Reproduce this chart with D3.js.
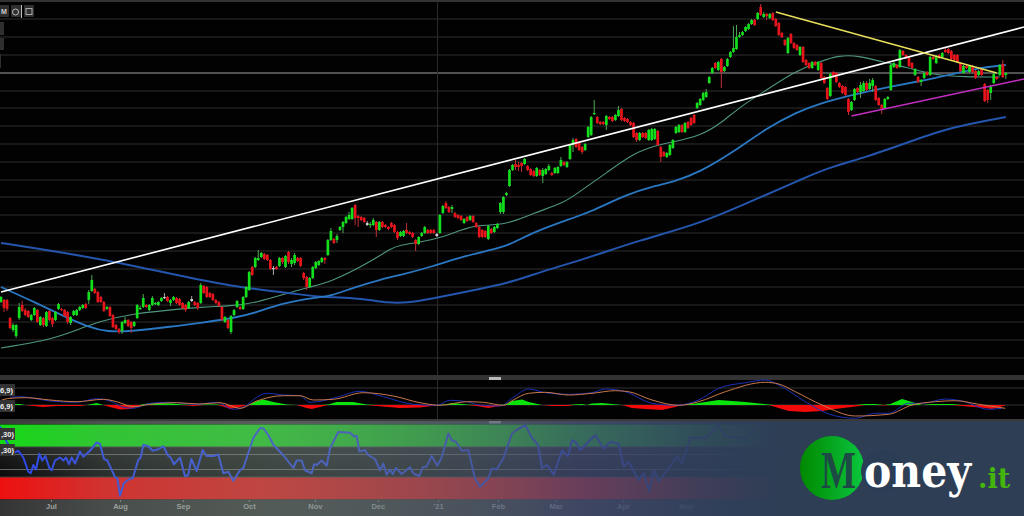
<!DOCTYPE html>
<html><head><meta charset="utf-8">
<style>html,body{margin:0;padding:0;background:#000;overflow:hidden}svg{display:block}</style>
<script src="https://cdn.jsdelivr.net/npm/d3@7"></script>
</head><body><svg id="c" width="1024" height="516"></svg>
<script>
const opens=[98,100,100,82,70,64,82,95,90,89,80,85,90,75,82,74,89,82,80,91,91,90,88,77,85,85,90,92,96,100,109,111,108,103,98,91,93,85,75,71,69,77,80,78,74,82,91,93,95,90,95,96,95,99,102,103,97,100,102,101,97,95,92,99,98,97,97,114,113,107,106,100,98,93,78,80,68,85,93,93,91,103,110,133,133,140,143,146,145,140,131,133,134,142,133,148,136,137,142,142,127,123,113,122,132,135,138,142,145,160,161,160,170,173,177,181,181,195,184,183,182,175,175,175,178,170,178,175,173,177,175,168,164,164,170,168,167,160,156,164,167,170,170,170,164,167,187,197,193,191,187,185,184,177,183,180,184,177,173,170,169,161,171,168,172,188,188,205,214,230,236,235,237,236,234,231,229,224,230,224,226,230,227,227,227,234,238,233,241,255,261,257,253,250,263,265,286,283,278,278,275,283,283,280,284,291,282,281,278,277,267,260,267,267,260,260,261,269,253,248,243,245,252,267,268,275,268,278,282,285,292,295,300,303,317,327,337,330,341,329,334,343,348,351,363,365,369,371,376,380,381,393,383,386,382,387,381,377,367,360,347,366,357,355,345,353,340,337,332,338,330,337,323,312,304,328,327,317,314,313,301,290,300,312,308,309,317,311,314,314,302,295,292,301,310,333,335,333,349,345,342,337,325,323,318,322,328,325,343,337,345,343,350,351,349,345,345,337,327,334,328,334,329,325,331,316,310,307,317,323,325,336,325];
const closes=[103,92,91,72,75,75,93,89,85,83,85,92,78,83,75,88,80,76,88,96,90,84,78,83,89,90,93,95,92,108,120,107,98,98,89,93,84,73,71,68,78,80,74,72,78,95,92,102,93,95,102,97,98,102,103,99,100,103,97,95,92,90,98,101,95,92,115,107,103,103,100,97,94,80,83,72,84,90,99,91,103,113,128,125,142,142,147,141,140,131,132,131,142,138,144,138,140,145,139,134,122,113,122,133,138,139,142,140,160,169,157,164,173,178,183,185,192,182,182,180,178,177,176,180,170,178,173,173,171,173,168,162,168,169,167,166,163,156,163,167,173,167,167,167,166,185,194,192,188,193,183,182,180,181,179,184,178,173,163,163,163,174,167,173,176,197,203,207,230,235,233,233,234,241,230,225,224,232,225,230,231,234,225,232,233,240,235,238,255,260,253,250,248,256,273,283,287,277,276,276,284,281,279,285,290,280,279,278,275,263,260,267,263,262,270,271,271,255,243,244,247,255,260,273,275,268,277,272,275,277,297,301,307,308,323,332,332,338,328,333,341,348,352,363,365,368,373,376,380,375,387,385,386,384,386,380,374,365,363,355,362,357,352,350,353,338,335,332,338,335,338,322,317,301,326,323,318,313,307,305,288,298,311,308,315,317,310,317,320,300,295,290,301,303,335,337,332,350,345,342,334,332,331,318,320,327,325,343,341,344,342,347,348,347,341,340,338,329,334,332,334,328,322,329,325,299,300,313,326,321,335,323,327];
const highs=[104,101,101,83,77,76,97,99,92,90,86,93,91,84,83,89,90,83,89,97,92,91,89,84,90,91,94,96,97,110,125,112,109,104,99,94,94,86,76,72,79,83,81,79,79,96,94,106,96,96,104,98,99,103,107,104,101,104,103,102,98,96,99,104,99,98,117,115,114,108,107,101,99,94,84,81,85,91,100,94,104,114,129,134,143,150,148,147,146,141,134,134,143,143,145,149,142,147,143,143,128,124,123,134,139,140,143,143,161,172,162,166,174,179,184,188,193,196,185,184,183,179,178,182,179,179,179,176,174,178,176,169,169,170,177,169,168,161,164,168,174,171,171,171,167,186,195,199,194,195,188,186,185,182,184,185,185,178,174,171,170,175,172,174,177,198,204,208,231,236,240,238,238,242,235,232,230,233,231,232,232,236,228,233,234,243,239,239,256,262,262,258,254,257,274,284,300,284,279,279,285,284,284,286,294,292,283,282,279,278,268,268,268,268,271,272,272,270,254,249,248,256,261,274,276,276,278,279,283,286,298,302,308,311,324,333,338,339,342,334,342,349,374,375,368,369,374,377,381,381,388,396,388,387,387,388,382,378,368,361,363,367,358,356,354,354,341,338,339,339,339,338,324,313,327,329,328,318,315,314,302,299,312,313,318,319,319,321,322,315,303,296,302,304,336,338,336,351,350,346,343,338,332,324,321,328,329,344,344,345,346,348,353,352,350,346,346,338,335,335,335,335,330,330,332,317,311,315,327,324,336,340,328];
const lows=[97,88,89,71,68,62,80,88,84,82,79,84,77,74,73,73,79,73,79,90,89,83,76,75,84,84,89,91,91,96,108,106,97,97,88,90,83,72,70,66,66,76,73,67,73,81,90,92,92,89,94,95,94,98,101,98,94,99,96,94,91,88,91,98,94,90,96,106,102,102,99,96,93,79,77,71,66,84,92,90,90,102,109,124,132,139,142,140,139,130,125,130,133,136,132,136,133,135,138,133,120,110,112,121,131,134,137,136,144,159,156,157,169,167,176,180,180,175,173,179,177,174,172,174,163,169,172,172,170,172,167,160,163,163,166,165,162,149,155,163,166,166,166,166,163,166,186,191,187,187,182,181,179,176,178,179,177,172,162,162,162,160,166,167,171,186,186,204,213,229,230,229,228,235,229,224,223,223,224,217,225,229,224,226,226,233,234,232,240,248,252,249,246,249,262,264,285,276,275,275,270,280,278,279,283,279,278,277,274,262,258,259,262,261,259,259,260,254,238,243,242,244,251,266,267,267,267,271,274,276,291,294,299,302,316,326,331,329,312,328,333,342,347,350,362,364,368,370,375,374,380,384,382,380,381,379,373,364,362,354,346,356,351,349,344,337,334,331,331,334,329,321,316,300,303,322,317,312,306,304,285,289,299,307,302,308,309,310,308,299,294,286,291,300,309,332,331,332,344,341,333,331,324,317,314,321,324,324,340,336,341,342,347,346,340,339,337,328,326,331,327,327,321,324,324,298,297,300,316,320,324,322,321];
const neutralBars=[54,63,90,121,144];

const gridPrices=[381,363,345,327,309,292,274,256,238,220,203,185,167,149,131,113,95,78,60,42];
const tealI=[0,16,25,33,43,56,66,76,84,96,102,109,122,129,132,139,145,152,157,167,176,186,191,200,209,217,222,231,238,244,253,262,270,277,284,291,299,308,319,328,330];
const tealP=[52,60,70,79,86,90,93,94,97,108,113,118,138,152,155,158,162,170,175,175,187,197,208,227,247,255,258,264,277,293,310,328,338,345,344,338,333,325,323,323,323];
const midI=[0,11,22,29,35,44,55,66,77,84,93,105,109,116,126,132,142,153,162,168,174,184,195,206,217,222,231,242,253,263,270,281,293,304,313,323,332];
const midP=[113,98,82,73,68,69,73,77,82,87,97,103,104,112,121,125,133,144,150,155,165,177,188,205,215,218,228,248,272,288,296,305,313,319,325,332,335];
const longI=[0,11,33,55,77,93,105,109,120,128,134,142,153,168,178,192,211,231,251,264,273,286,300,314,332];
const longP=[157,152,141,127,113,108,103,103,101,97,97,101,108,117,128,140,160,176,203,220,232,243,258,273,283];
const trendI=[0,338], trendP=[108,373];
const yellowI=[256,329], yellowP=[388,327];
const magentaI=[281,338], magentaP=[284,321];

const histT=[0,30,60,75,100,130,170,200,240,260,290,310,330,360,390,420,430,470,520,545,580,610,650,665,690,720,745,770,790,820,860,890,920,935,960,985,1010,1060,1100,1130,1200,1260,1320,1360,1400,1430,1465,1500,1520,1536,1566,1586,1626,1656,1706,1721,1746,1761,1776,1806,1836,1866,1896,1936,1986,2026,2046,2086,2156,2236,2306,2326,2366,2416,2466,2506,2566,2596,2626,2651,2671,2706,2746,2766,2796,2856,2886,2956,2976,3016];
const histV=[0,1,1,0,-1,-2,-1,-1,-1,0,2,0,-2,-4.5,-4,-1,1,2,1.5,0.5,-1,0.5,0.5,-1,-4,-2,0,4,5.5,3,0.5,0,-3,-4,-2,0.5,3,3,0.5,-1,-3,-2.5,0,2,0.5,-1,-3,-1,1,4,5.5,3,0,-1,-1,0.5,1,0,1.5,2,1,0,-3,-4,-5,-2,0,1.5,5,3,0.5,-2,-6,-7,-6,-4,-1.5,1,1,-0.5,1,6,2,0,1,1,-1,-3,-4,-0.5];
const signalT=[0,30,80,150,230,310,350,400,450,530,600,660,720,770,850,900,940,1000,1090,1180,1260,1320,1400,1450,1510,1536,1586,1636,1706,1776,1846,1886,1956,2036,2096,2176,2296,2336,2386,2466,2566,2666,2736,2806,2866,2936,3016];
const signalV=[4.3,6.7,7.3,5,3.3,5.7,3.3,-1.7,0.7,2.3,1,2.3,-3.3,4,9.3,9.3,5,5.7,12.3,9,2.3,-0.3,3.3,2.7,-0.3,4.3,11.7,12.7,10,11.7,14.3,13.3,5,-0.3,3.3,13.3,22.7,21,13.3,0,-11,-9.3,0,3.3,4.3,0.7,-3.3];
const macdT=[30,60,150,230,290,340,370,400,450,510,590,650,700,730,770,800,850,900,930,970,1010,1080,1150,1240,1310,1350,1400,1440,1500,1536,1586,1636,1706,1776,1816,1876,1956,2026,2096,2156,2236,2296,2336,2416,2486,2566,2626,2666,2726,2766,2836,2886,2966,3006];
const macdV=[7.7,8.3,4,2.7,6.3,2.7,-2.3,-3.3,1.7,2.7,0.7,2.7,-4.3,-2.3,7.7,11.7,10,9.3,2.7,4.3,7.7,13.7,8.3,0.7,-0.3,4.7,3.3,0,-1,6.7,16,12.3,10.7,12.3,16,13.3,1.7,-0.3,5,16.7,22.3,25,20,3.3,-9,-13.3,-8.3,-8.3,1.7,1.7,6,4,-4.3,-3.3];

const rsiT=[0,20,40,55,70,85,92,100,108,118,127,136,148,155,165,180,190,198,207,215,225,240,250,270,290,300,312,322,345,352,360,372,390,398,415,422,430,445,458,475,490,505,512,522,540,555,565,574,590,608,620,640,655,670,685,700,720,730,760,780,790,805,820,850,880,890,905,915,935,942,950,965,980,990,1015,1050,1062,1070,1078,1095,1105,1125,1140,1150,1160,1170,1178,1188,1205,1230,1240,1258,1268,1280,1295,1312,1325,1345,1355,1368,1385,1405,1425,1440,1465,1475,1490,1510,1536,1551,1576,1596,1614,1626,1641,1661,1686,1704,1716,1726,1741,1786,1811,1831,1856,1871,1886,1916,1931,1948,1961,1976,2031,2046,2071,2116,2156,2176,2236,2276,2316,2331];
const rsiV=[97,77,62,65,56,37,35,46,40,61,52,58,42,39,52,56,52,56,47,56,48,64,57,65,76,74,54,52,30,28,5,22,28,28,53,56,73,71,65,67,71,58,56,47,56,31,33,54,38,66,58,58,60,35,37,25,39,42,82,95,95,86,73,59,42,52,52,39,35,47,46,52,45,68,90,89,84,85,64,66,59,54,39,48,33,40,34,42,34,43,35,31,43,44,58,45,56,88,79,77,65,66,28,17,28,41,40,55,88,93,99,82,73,42,46,33,65,58,79,77,66,86,68,77,74,44,50,26,35,11,39,24,57,48,82,82,99,84,82,99,82,57];

const tickBars=[16.5,39.3,60.1,81.9,103.7,124.5,144.4,164.2,183.3,205.5,226.3];
const tickLabels=["Jul","Aug","Sep","Oct","Nov","Dec","'21","Feb","Mar","Apr","May"];
const rsiBands=[70,30];
const rsiLines=[60,40];

const svg=d3.select("#c");
const defs=svg.append("defs");
const x=d3.scaleLinear().domain([0,338]).range([1,1024]);
const y=d3.scaleLinear().domain([40,400]).range([360,0]);
const t=d3.scaleLinear().domain([0,3072]).range([0,1024]);
const ym=d3.scaleLinear().domain([-15,25]).range([420,380]);
const yr=d3.scaleLinear().domain([0,100]).range([499.5,424.5]);

svg.append("rect").attr("width",1024).attr("height",516).attr("fill","#020202");
svg.append("rect").attr("width",1024).attr("height",2).attr("fill","#333");

// grid
svg.append("g").selectAll("line").data(gridPrices).join("line")
 .attr("x1",0).attr("x2",1024).attr("y1",d=>y(d)).attr("y2",d=>y(d))
 .attr("stroke",d=>d===327?"#a0a0a0":"#2e2e2e").attr("stroke-width",1.2);
svg.append("line").attr("x1",437.5).attr("x2",437.5).attr("y1",2).attr("y2",420).attr("stroke","#2a2a2a");

// moving averages
const path=(xs,ys,sx,sy,curve)=>d3.line().x((d,i)=>sx(xs[i])).y((d,i)=>sy(ys[i])).curve(curve||d3.curveLinear)(xs);
svg.append("path").attr("d",path(tealI,tealP,x,y,d3.curveBasis)).attr("fill","none").attr("stroke","#4f9680").attr("stroke-width",1.1);
svg.append("path").attr("d",path(longI,longP,x,y,d3.curveBasis)).attr("fill","none").attr("stroke","#2456ad").attr("stroke-width",2);
svg.append("path").attr("d",path(midI,midP,x,y,d3.curveBasis)).attr("fill","none").attr("stroke","#2a77c2").attr("stroke-width",1.8);

// candles
const cCol=i=>neutralBars.includes(i)?"#cfcfcf":(closes[i]>=opens[i]?"#12e01c":"#e8141c");
const idx=d3.range(opens.length);
const cg=svg.append("g");
cg.selectAll("line").data(idx).join("line")
 .attr("x1",i=>x(i)).attr("x2",i=>x(i)).attr("y1",i=>y(highs[i])).attr("y2",i=>y(lows[i]))
 .attr("stroke",i=>neutralBars.includes(i)?"#aaa":(closes[i]>=opens[i]?"#4fa855":"#c03035")).attr("stroke-width",1);
cg.selectAll("rect").data(idx).join("rect")
 .attr("x",i=>x(i)-1.35).attr("width",2.7)
 .attr("y",i=>y(Math.max(opens[i],closes[i]))).attr("height",i=>Math.max(1.2,Math.abs(y(opens[i])-y(closes[i]))))
 .attr("fill",cCol);

// trend lines
svg.append("path").attr("d",path(trendI,trendP,x,y)).attr("stroke","#fff").attr("stroke-width",1.6).attr("fill","none");
svg.append("path").attr("d",path(yellowI,yellowP,x,y)).attr("stroke","#e8e05a").attr("stroke-width",1.4).attr("fill","none");
svg.append("path").attr("d",path(magentaI,magentaP,x,y)).attr("stroke","#c32ec0").attr("stroke-width",1.5).attr("fill","none");

// panel separators
svg.append("rect").attr("y",375).attr("width",1024).attr("height",5).attr("fill","#333");
svg.append("rect").attr("x",489).attr("y",377).attr("width",12).attr("height",3).attr("fill","#bbb");
svg.append("rect").attr("y",419).attr("width",1024).attr("height",5).attr("fill","#3a3a3a");
svg.append("rect").attr("x",489).attr("y",421).attr("width",12).attr("height",2.5).attr("fill","#aaa");

// MACD
[17,0].forEach(v=>svg.append("line").attr("x1",0).attr("x2",1024).attr("y1",ym(v)).attr("y2",ym(v)).attr("stroke","#333"));
const ha=f=>d3.area().x((d,i)=>t(histT[i])).y0(ym(0)).y1((d,i)=>ym(f(histV[i])))(histT);
svg.append("path").attr("d",ha(v=>Math.max(v,0))).attr("fill","#0be40b");
svg.append("path").attr("d",ha(v=>Math.min(v,0))).attr("fill","#f20a0a");
svg.append("path").attr("d",path(macdT,macdV,t,ym,d3.curveMonotoneX)).attr("fill","none").attr("stroke","#1c2fb5").attr("stroke-width",1);
svg.append("path").attr("d",path(signalT,signalV,t,ym,d3.curveMonotoneX)).attr("fill","none").attr("stroke","#c9784a").attr("stroke-width",1);

// RSI panel
const bg=defs.append("linearGradient").attr("id","mid").attr("x1",0).attr("x2",0).attr("y1",0).attr("y2",1);
bg.append("stop").attr("offset",0).attr("stop-color","#1e1e1e");bg.append("stop").attr("offset",1).attr("stop-color","#0a0a0a");
svg.append("rect").attr("y",yr(100)).attr("width",1024).attr("height",yr(70)-yr(100)).attr("fill","#16d816");
svg.append("rect").attr("y",yr(70)).attr("width",1024).attr("height",yr(30)-yr(70)).attr("fill","url(#mid)");
svg.append("rect").attr("y",yr(30)).attr("width",1024).attr("height",yr(0)-yr(30)).attr("fill","#ee1010");
svg.append("g").selectAll("line").data(rsiLines).join("line").attr("x1",0).attr("x2",1024).attr("y1",d=>yr(d)).attr("y2",d=>yr(d)).attr("stroke","#666");
svg.append("g").selectAll("line").data(rsiBands).join("line").attr("x1",0).attr("x2",1024).attr("y1",d=>yr(d)).attr("y2",d=>yr(d)).attr("stroke","#3c3c3c");
svg.append("rect").attr("y",yr(0)).attr("width",1024).attr("height",516-yr(0)).attr("fill","#343434");
svg.append("path").attr("d",path(rsiT,rsiV,t,yr)).attr("fill","none").attr("stroke","#2a45f0").attr("stroke-width",2).attr("stroke-linejoin","round");

// date axis
const ax=svg.append("g").attr("transform","translate(0,500)").call(d3.axisBottom(x).tickValues(tickBars).tickSize(2).tickPadding(2).tickFormat((d,i)=>tickLabels[i]));
ax.select(".domain").remove();
ax.selectAll("line").attr("stroke","#888");
ax.selectAll("text").attr("font-family","Liberation Sans").attr("font-size",7.5).attr("font-weight","bold").attr("fill","#a4a4a4");

// left tags
[[384,"6,9)"],[400,"6,9)"]].forEach(([yy,s])=>{
 svg.append("rect").attr("y",yy).attr("width",15).attr("height",12).attr("fill","#333");
 svg.append("text").attr("x",0).attr("y",yy+9).text(s).attr("fill","#eee").attr("font-family","Liberation Sans").attr("font-size",7.5).attr("font-weight","bold");
});
[[428,",30)"],[444,",30)"]].forEach(([yy,s])=>{
 svg.append("rect").attr("y",yy).attr("width",15).attr("height",12).attr("fill","#333");
 svg.append("text").attr("x",1).attr("y",yy+9).text(s).attr("fill","#eee").attr("font-family","Liberation Sans").attr("font-size",7.5).attr("font-weight","bold");
});

// toolbar
[[0,9],[11,10],[24,10]].forEach(([a,w])=>svg.append("rect").attr("x",a).attr("y",5).attr("width",w).attr("height",12).attr("rx",1).attr("fill","#2f2f2f"));
svg.append("rect").attr("x",21).attr("y",5).attr("width",1).attr("height",13).attr("fill","#bbb");
svg.append("text").attr("x",1).attr("y",14).text("M").attr("fill","#ccc").attr("font-family","Liberation Sans").attr("font-size",7).attr("font-weight","bold");
svg.append("circle").attr("cx",15.5).attr("cy",12).attr("r",3).attr("fill","none").attr("stroke","#bbb");
svg.append("rect").attr("x",26).attr("y",8.5).attr("width",6).attr("height",6).attr("fill","none").attr("stroke","#aaa");
[[22,4,13],[38,4,12],[54,1,14]].forEach(([a,w,h])=>svg.append("rect").attr("x",0).attr("y",a).attr("width",w).attr("height",h).attr("fill","#2f2f2f"));

// overlay banner
const ov=defs.append("linearGradient").attr("id","ov");
[[0,"#7d9187",0],[0.1,"#7d9187",0.27],[0.254,"#7d9187",0.42],[0.41,"#5f6e78",0.58],[0.566,"#414b70",0.77],[0.68,"#32415f",0.92],[0.76,"#2d3e55",1],[1,"#2d3e55",1]].forEach(([o,c,a])=>ov.append("stop").attr("offset",o).attr("stop-color",c).attr("stop-opacity",a));
svg.append("rect").attr("y",421).attr("width",1024).attr("height",95).attr("fill","url(#ov)");

// logo
const lg=defs.append("linearGradient").attr("id","lg");
lg.append("stop").attr("offset",0).attr("stop-color","#008800");lg.append("stop").attr("offset",1).attr("stop-color","#0bc63f");
svg.append("circle").attr("cx",832).attr("cy",468).attr("r",32).attr("fill","url(#lg)");
svg.append("circle").attr("cx",882).attr("cy",471).attr("r",21).attr("fill","#2b3c55");
svg.append("text").attr("transform","translate(821,488) scale(1,1.43)").text("M").attr("font-family","Liberation Serif").attr("font-weight","bold").attr("font-size",37).attr("fill","#1e4a45");
svg.append("text").attr("transform","translate(864,487) scale(1,1.13)").text("oney").attr("font-family","DejaVu Serif").attr("font-weight","bold").attr("font-size",41).attr("fill","#fff");
svg.append("text").attr("x",978).attr("y",488).text(".it").attr("font-family","DejaVu Serif").attr("font-weight","bold").attr("font-size",27).attr("fill","#45b50d");
</script></body></html>
